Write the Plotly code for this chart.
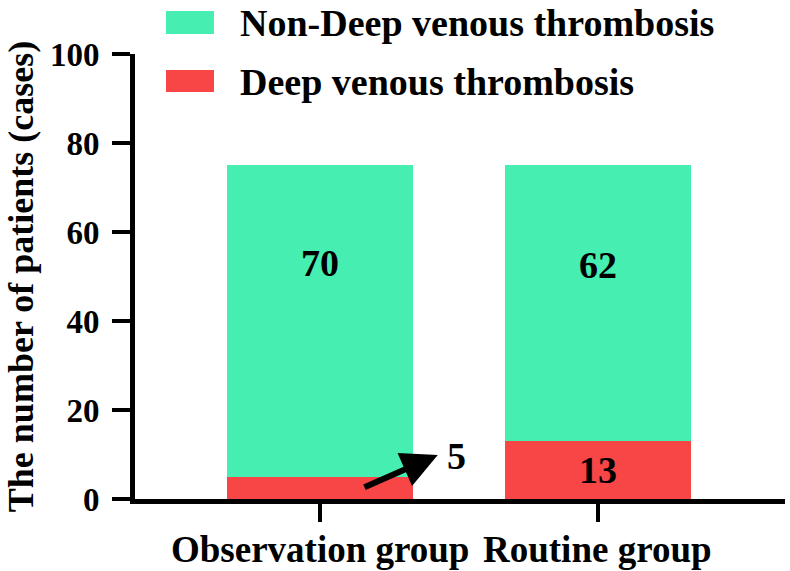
import plotly.graph_objects as go

categories = ["Observation group", "Routine group"]
series_names = ["Deep venous thrombosis", "Non-Deep venous thrombosis"]
dvt_values = [5, 13]
non_dvt_values = [70, 62]
y_ticks = [0, 20, 40, 60, 80, 100]

RED = "#F84646"
GREEN = "#46EFB1"
FONT = "Liberation Serif"

x_pos = [0, 1]

fig = go.Figure()
fig.add_trace(go.Bar(x=x_pos, y=dvt_values, name=series_names[0], marker_color=RED,
                     marker_line_width=0, width=0.67, showlegend=False))
fig.add_trace(go.Bar(x=x_pos, y=non_dvt_values, name=series_names[1], marker_color=GREEN,
                     marker_line_width=0, width=0.67, showlegend=False))

W, H = 790, 571
PL, PW, PT, PH = 135, 650, 54, 445
def px(xp):
    return (xp - PL) / PW
def py(yp):
    return (PT + PH - yp) / PH

lab_font = dict(family=FONT, size=38, color="black", weight="bold")
annotations = []
# value labels
annotations.append(dict(x=x_pos[0], y=53, text=str(non_dvt_values[0]), showarrow=False, font=lab_font))
annotations.append(dict(x=x_pos[1], y=52.5, text=str(non_dvt_values[1]), showarrow=False, font=lab_font))
annotations.append(dict(x=x_pos[1], y=dvt_values[1] / 2, text=str(dvt_values[1]), showarrow=False,
                        font=lab_font))
annotations.append(dict(x=0.493, y=9.6, text=str(dvt_values[0]), showarrow=False, font=lab_font))
# arrow pointing to the "5" label
annotations.append(dict(x=0.424, y=9.9, ax=0.155, ay=2.5, xref="x", yref="y", axref="x", ayref="y",
                        text="", showarrow=True, arrowhead=2, arrowsize=1.2, arrowwidth=6,
                        arrowcolor="black", standoff=0, startstandoff=0))

# category labels below the x axis
for xv, cat in zip(x_pos, categories):
    annotations.append(dict(x=xv, xref="x", y=py(549), yref="paper", yanchor="middle",
                            text=cat, showarrow=False,
                            font=dict(family=FONT, size=37, color="black", weight="bold")))

# legend drawn manually
shapes = []
legend_items = [(series_names[1], GREEN, 11, 34), (series_names[0], RED, 70, 92)]
for name, col, top, bot in legend_items:
    shapes.append(dict(type="rect", xref="paper", yref="paper", x0=px(166), x1=px(214),
                       y0=py(bot), y1=py(top), fillcolor=col, line_width=0))
    annotations.append(dict(xref="paper", yref="paper", x=px(238), y=py((top + bot) / 2 + 1),
                            xanchor="left", yanchor="middle", text=name, showarrow=False,
                            font=dict(family=FONT, size=38, color="black", weight="bold")))

fig.update_layout(
    barmode="stack",
    width=W, height=H,
    margin=dict(l=PL, r=W - PL - PW, t=PT, b=H - PT - PH),
    plot_bgcolor="white", paper_bgcolor="white",
    shapes=shapes, annotations=annotations,
    font=dict(family=FONT, color="black"),
    xaxis=dict(range=[-0.665, 1.673], tickvals=x_pos, showticklabels=False,
               showline=True, linecolor="black", linewidth=5, ticks="outside", ticklen=18,
               tickwidth=4, tickcolor="black", showgrid=False, zeroline=False),
    yaxis=dict(range=[0, 100], tickvals=y_ticks, showline=True, linecolor="black", linewidth=5,
               ticks="outside", ticklen=18, tickwidth=4, tickcolor="black", showgrid=False,
               zeroline=False, automargin=False, ticklabelstandoff=6,
               tickfont=dict(family=FONT, size=33, color="black", weight="bold"),
               title=dict(text="The number of patients (cases)", standoff=7,
                          font=dict(family=FONT, size=36, color="black", weight="bold"))),
)

fig.write_html("out.html", config={"displayModeBar": False},
               post_script="document.body.style.margin='0';")
